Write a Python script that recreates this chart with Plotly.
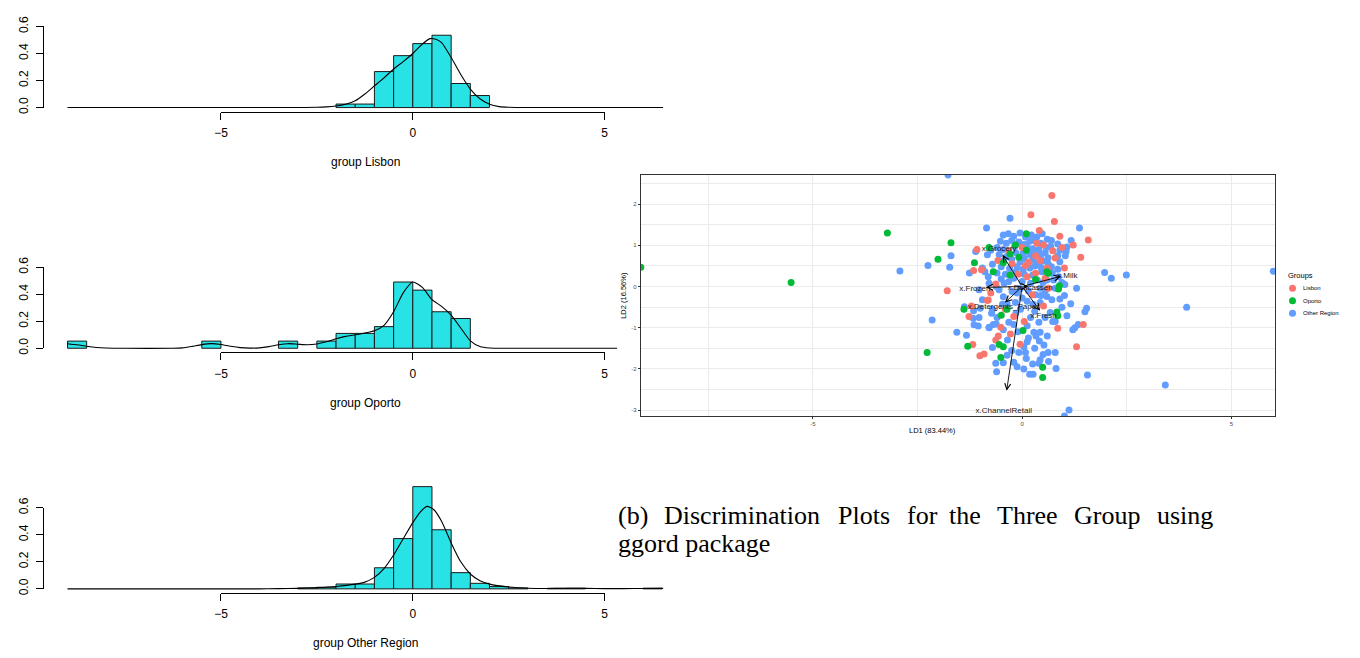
import plotly.graph_objects as go

W, H = 1360, 658
SANS = "Liberation Sans, Arial, sans-serif"
SERIF = "Liberation Serif, Times New Roman, serif"


def px2x(p):
    return p / W


def px2y(p):
    return 1 - p / H


# ---------------- histogram data (density scale, bin width 0.5) ----------------
bin_width = 0.5
hist_titles = ["group Lisbon", "group Oporto", "group Other Region"]
hist_xticks = [-5, 0, 5]
hist_xticklabels = ["\u22125", "0", "5"]
hist_yticks = [0.0, 0.2, 0.4, 0.6]
hist_yticklabels = ["0.0", "0.2", "0.4", "0.6"]

lisbon_bins = [-2.0, -1.5, -1.0, -0.5, 0.0, 0.5, 1.0, 1.5]
lisbon_heights = [0.026, 0.026, 0.266, 0.384, 0.473, 0.535, 0.178, 0.089]
lisbon_dens_x = [-9.0, -3.0, -2.5, -2.25, -2.0, -1.75, -1.5, -1.25, -1.0, -0.75, -0.5, -0.25,
                 0.0, 0.25, 0.45, 0.6, 0.75, 1.0, 1.25, 1.5, 1.75, 2.0, 2.25, 2.5, 3.0, 6.53]
lisbon_dens_y = [0.0, 0.0, 0.002, 0.005, 0.012, 0.025, 0.05, 0.1, 0.16, 0.22, 0.285, 0.34,
                 0.40, 0.47, 0.51, 0.505, 0.48, 0.37, 0.245, 0.137, 0.065, 0.024, 0.007, 0.002, 0.0, 0.0]

oporto_bins = [-9.0, -5.5, -3.5, -2.5, -2.0, -1.5, -1.0, -0.5, 0.0, 0.5, 1.0]
oporto_heights = [0.053, 0.053, 0.053, 0.053, 0.11, 0.11, 0.16, 0.49, 0.43, 0.27, 0.22]
oporto_dens_x = [-9.0, -8.75, -8.5, -8.25, -8.0, -7.5, -6.25, -6.0, -5.75, -5.5, -5.25, -5.0,
                 -4.75, -4.5, -4.25, -4.0, -3.75, -3.5, -3.25, -3.0, -2.75, -2.5, -2.25, -2.0,
                 -1.75, -1.5, -1.25, -1.0, -0.75, -0.5, -0.25, 0.0, 0.25, 0.5, 0.75, 1.0,
                 1.25, 1.5, 1.75, 2.0, 2.5, 5.4]
oporto_dens_y = [0.034, 0.026, 0.015, 0.006, 0.002, 0.0, 0.0, 0.003, 0.014, 0.027, 0.034, 0.028,
                 0.015, 0.005, 0.001, 0.003, 0.012, 0.026, 0.034, 0.03, 0.026, 0.032, 0.048, 0.07,
                 0.088, 0.1, 0.113, 0.13, 0.17, 0.27, 0.41, 0.49, 0.45, 0.36, 0.31, 0.245,
                 0.15, 0.055, 0.013, 0.002, 0.0, 0.0]

other_bins = [-3.0, -2.5, -2.0, -1.5, -1.0, -0.5, 0.0, 0.5, 1.0, 1.5, 2.0, 2.5, 3.5, 4.0, 6.0]
other_heights = [0.007, 0.012, 0.036, 0.036, 0.156, 0.372, 0.756, 0.437, 0.12, 0.041, 0.017,
                 0.007, 0.004, 0.005, 0.005]
other_dens_x = [-9.0, -4.0, -3.5, -3.0, -2.5, -2.0, -1.5, -1.25, -1.0, -0.75, -0.5, -0.25, 0.0,
                0.2, 0.37, 0.55, 0.75, 1.0, 1.25, 1.5, 1.75, 2.0, 2.5, 3.0, 3.5, 4.0, 4.5, 5.0,
                5.5, 6.0, 6.53]
other_dens_y = [0.0, 0.0, 0.002, 0.004, 0.009, 0.018, 0.035, 0.05, 0.085, 0.15, 0.25, 0.37, 0.49,
                0.57, 0.61, 0.585, 0.5, 0.34, 0.2, 0.11, 0.06, 0.035, 0.014, 0.005, 0.003, 0.004,
                0.004, 0.002, 0.002, 0.003, 0.004]

# ---------------- discriminant scatter data (LD1, LD2) ----------------
groups = ["Lisbon", "Oporto", "Other Region"]
group_colors = ["#F8766D", "#00BA38", "#619CFF"]

lisbon_pts = [(-1.08, 0.90), (-1.16, 0.39), (-0.97, 0.41), (-1.79, -0.10), (-0.83, -0.34),
              (-1.21, -0.47), (-1.27, -0.73), (-1.18, -1.41), (-1.01, -1.68), (-0.91, -1.64),
              (0.71, 2.21), (0.21, 1.74), (0.77, 1.58), (0.41, 1.36), (0.90, 1.22), (1.58, 1.13),
              (1.22, 1.01), (1.40, 0.71), (1.01, 0.45), (0.79, 0.69), (0.73, 0.87), (-0.58, 0.63),
              (-0.63, 0.06), (-0.75, -0.16), (-0.81, -0.33), (-0.20, -0.73), (0.51, -0.47),
              (0.85, -1.01), (1.46, -0.92), (1.30, -1.46), (-0.51, -0.99), (-0.28, -1.15),
              (-0.57, -1.20), (-0.63, -1.30), (0.12, 0.24), (0.32, 0.32), (0.08, 0.51),
              (0.63, -0.04), (-0.32, 0.87), (-0.24, 0.55), (0.43, 0.63), (0.51, 1.01),
              (0.32, 0.75), (0.16, 0.59), (0.35, 1.05), (0.0, 0.95), (-0.1, 0.3), (0.55, 0.2),
              (0.25, -0.2), (-0.4, -0.55), (0.05, -0.85), (-0.05, -1.4), (0.6, 0.45), (0.95, 0.95)]

oporto_pts = [(-9.11, 0.47), (-5.52, 0.095), (-3.22, 1.30), (-1.70, 1.06), (-2.01, 0.66),
              (-1.14, 0.58), (-1.39, -0.55), (-1.30, -1.45), (-2.27, -1.60), (-0.79, 0.95),
              (-0.69, 0.36), (-0.45, 0.58), (-0.29, 0.28), (-0.29, 0.79), (-0.16, 1.01),
              (0.10, 1.28), (-0.08, 0.71), (0.32, 0.17), (0.59, 0.36), (0.63, 0.32), (0.89, 0.02),
              (0.87, -0.06), (-0.36, -0.55), (-0.50, -0.70), (0.83, -0.62), (0.85, -0.71),
              (0.02, -1.07), (-0.55, -1.41), (-0.45, -1.46), (-0.51, -1.72), (0.49, -1.96),
              (0.49, -2.21), (0.10, 0.88)]

other_pts = [(-1.77, 2.71), (-0.85, 1.42), (-1.70, 0.75), (-2.25, 0.51), (-1.73, 0.47),
             (-2.92, 0.38), (-1.11, 0.85), (-0.83, 0.77), (-0.95, 0.45), (-0.89, 0.36),
             (-1.26, 0.33), (-0.81, 0.24), (-0.95, -0.32), (-1.38, -0.49), (-1.16, -0.59),
             (-1.00, -0.53), (-1.17, -0.77), (-2.15, -0.81), (-1.15, -0.93), (-1.05, -0.96),
             (-1.56, -1.11), (-1.33, -1.18), (-0.79, -1.00),
             (-0.29, 1.66), (1.37, 1.42), (1.17, 1.12), (1.07, 0.96), (1.05, 0.85), (1.03, 0.75),
             (0.85, 1.03), (0.70, 1.12), (1.97, 0.34), (2.13, 0.20), (2.49, 0.28), (6.0, 0.37),
             (3.93, -0.50), (3.42, -2.39), (1.12, -3.0), (1.01, -3.14), (1.56, -2.15),
             (1.30, -0.04), (1.01, -0.22), (1.16, -0.42), (1.54, -0.53), (1.50, -0.61),
             (1.07, -0.71), (0.79, -0.85), (1.26, -1.00), (1.21, -1.05), (1.34, -0.92),
             (0.79, -1.60), (0.62, -1.60), (0.63, -1.82), (0.81, -1.99), (0.43, -1.78),
             (0.40, -1.86), (0.25, -1.88), (0.18, -2.13), (0.26, -2.13), (0.04, -2.00),
             (-0.12, -1.95), (-0.20, -1.84), (-0.36, -1.67), (-0.63, -1.86), (-0.61, -2.07),
             (0.08, -1.60), (-0.08, -1.60), (0.04, -1.46), (0.12, -1.34), (0.41, -1.32),
             (0.52, -1.42), (0.28, -1.11), (0.43, -1.11), (0.33, -1.20), (-0.71, -1.48),
             (-0.79, -0.99), (-0.69, -0.92), (-0.62, -0.91), (-0.32, -0.87), (-0.20, -0.92),
             (-1.03, -0.75), (-0.73, -0.65), (-0.47, -0.43), (-0.36, -0.42), (-0.71, -0.55),
             (-0.04, -0.55), (-0.16, -0.39), (0.12, -0.36), (0.26, -0.43), (0.43, -0.39),
             (0.20, -0.75), (0.12, -0.95), (0.40, -0.87), (0.67, -0.63), (0.73, -0.85),
             (-0.12, -0.16), (-0.24, -0.12), (-0.43, 0.08), (-0.32, 0.12), (-0.55, -0.08),
             (-1.03, -0.08), (-0.79, 0.08), (-0.71, 0.54), (-0.75, 0.88), (0.47, 0.36),
             (0.59, 0.16), (0.75, 0.16), (0.87, 0.24), (0.79, -0.04), (0.43, -0.04),
             (0.32, -0.20), (0.59, -0.24), (0.71, -0.32), (0.36, 0.16), (0.20, 0.08),
             (-0.45, 1.25), (-0.33, 1.28), (-0.2, 1.22), (-0.05, 1.3), (0.08, 1.2), (0.22, 1.25),
             (0.35, 1.2), (0.48, 1.28), (-0.52, 1.1), (-0.38, 1.05), (-0.25, 1.12), (-0.08, 1.08),
             (0.05, 1.02), (0.18, 1.1), (0.3, 1.12), (0.45, 1.05), (0.6, 1.15), (-0.6, 0.95),
             (-0.45, 0.9), (-0.18, 0.97), (0.12, 0.96), (0.25, 0.92), (0.4, 0.9), (0.58, 0.95),
             (0.68, 0.98), (0.9, 0.88), (-0.55, 0.78), (-0.38, 0.72), (-0.15, 0.82), (0.02, 0.8),
             (0.18, 0.78), (0.28, 0.84), (0.45, 0.77), (0.55, 0.82), (0.62, 0.7), (0.85, 0.75),
             (-0.45, 0.62), (-0.25, 0.66), (-0.05, 0.6), (0.05, 0.68), (0.25, 0.65), (0.38, 0.58),
             (0.5, 0.62), (0.62, 0.55), (0.9, 0.6), (-0.5, 0.48), (-0.3, 0.44), (-0.12, 0.48),
             (0.02, 0.42), (0.18, 0.45), (0.3, 0.5), (0.45, 0.46), (0.7, 0.48), (0.85, 0.42),
             (-0.6, 0.33), (-0.4, 0.3), (-0.15, 0.36), (0.05, 0.3), (0.25, 0.28), (0.72, 0.32),
             (-0.5, 0.18), (-0.2, 0.2), (0.0, 0.12), (0.5, 0.1), (0.95, 0.1), (-0.62, 0.0),
             (-0.05, -0.05), (0.15, -0.1), (0.55, -0.1), (1.02, 0.05), (-0.45, -0.25),
             (0.0, -0.28), (0.45, -0.22), (0.9, -0.3), (-0.6, -0.75), (-0.15, -0.65),
             (0.3, -0.6), (0.55, -0.75), (0.95, -0.5), (-0.45, -1.05), (-0.1, -1.1),
             (0.15, -1.25), (0.6, -1.2), (-0.35, -1.3), (0.3, -1.5), (-0.25, -1.55),
             (0.5, -1.65), (-0.45, -1.85), (0.1, -1.75)]

lisbon_ld1 = [p[0] for p in lisbon_pts]
lisbon_ld2 = [p[1] for p in lisbon_pts]
oporto_ld1 = [p[0] for p in oporto_pts]
oporto_ld2 = [p[1] for p in oporto_pts]
other_ld1 = [p[0] for p in other_pts]
other_ld2 = [p[1] for p in other_pts]

# biplot vectors
vec_names = ["x.Grocery", "x.Milk", "x.Frozen", "x.Delicassen", "x.Detergents_Paper",
             "x.Fresh", "x.ChannelRetail"]
vec_x = [-0.47, 0.93, -0.87, 0.15, -0.41, 0.43, -0.37]
vec_y = [0.77, 0.25, -0.02, 0.0, -0.39, -0.59, -2.53]
vec_label_x = [-0.55, 1.08, -1.13, 0.19, -0.45, 0.51, -0.44]
vec_label_y = [0.92, 0.25, -0.05, -0.03, -0.49, -0.71, -3.03]
vec_origin = [0.0, 0.0]

ld_xticks = [-5, 0, 5]
ld_xminor = [-7.5, -2.5, 2.5]
ld_yticks = [-3, -2, -1, 0, 1, 2]
ld_yminor = [-2.5, -1.5, -0.5, 0.5, 1.5, 2.5]

caption_line1 = ["(b)", "Discrimination", "Plots", "for", "the", "Three", "Group", "using"]
caption_line1_px = [614, 660, 836, 905, 948, 996, 1074, 1157]
caption_line2 = "ggord package"

# ---------------- figure ----------------
fig = go.Figure()
layout = dict(width=W, height=H, margin=dict(l=0, r=0, t=0, b=0),
              paper_bgcolor="white", plot_bgcolor="rgba(0,0,0,0)", showlegend=False,
              font=dict(family=SANS, color="black"))
annotations = []


def ax_key(kind, n):
    return kind + "axis" + ("" if n == 1 else str(n))


def ax_ref(kind, n):
    return kind + ("" if n == 1 else str(n))


# geometry of the R histogram panels (page pixels)
x0_px, ppu_x = 409.1, 38.68
ppu_y = 138.6
left_px = 37.0
base_px = [100.0, 346.7, 593.3]
ymax = [0.72, 0.76, 0.80]
right_px = [661.7, 615.0, 661.7]
label_px = [156.0, 403.0, 649.0]
hist_data = [(lisbon_bins, lisbon_heights, lisbon_dens_x, lisbon_dens_y),
             (oporto_bins, oporto_heights, oporto_dens_x, oporto_dens_y),
             (other_bins, other_heights, other_dens_x, other_dens_y)]

for i, (bins, heights, dx, dy) in enumerate(hist_data):
    a, b = 2 * i + 1, 2 * i + 2
    bottom = base_px[i] + 0.03 * ppu_y
    top = base_px[i] - ymax[i] * ppu_y
    layout[ax_key("x", a)] = dict(domain=[px2x(left_px), px2x(right_px[i])],
                                  range=[(left_px - x0_px) / ppu_x, (right_px[i] - x0_px) / ppu_x],
                                  visible=False, anchor=ax_ref("y", a))
    layout[ax_key("y", a)] = dict(domain=[px2y(bottom), px2y(top)],
                                  range=[-0.03, ymax[i]], visible=False, anchor=ax_ref("x", a))
    fig.add_trace(go.Bar(x=bins, y=heights, width=bin_width, offset=0,
                         marker=dict(color="#28E2E5", line=dict(color="#1a1a1a", width=1)),
                         xaxis=ax_ref("x", a), yaxis=ax_ref("y", a), hoverinfo="skip"))
    fig.add_trace(go.Scatter(x=dx, y=dy, mode="lines",
                             line=dict(color="black", width=1.1, shape="spline", smoothing=0.6),
                             xaxis=ax_ref("x", a), yaxis=ax_ref("y", a), hoverinfo="skip"))
    # R style axes (lines only span first..last tick)
    layout[ax_key("x", b)] = dict(domain=[px2x(x0_px - 5 * ppu_x), px2x(x0_px + 5 * ppu_x)],
                                  range=[-5.001, 5.001], anchor="free", position=px2y(bottom),
                                  showline=True, linecolor="black", linewidth=1,
                                  ticks="outside", ticklen=7, tickwidth=1, tickcolor="black",
                                  tickvals=hist_xticks, ticktext=hist_xticklabels,
                                  tickfont=dict(family=SANS, size=12, color="black"),
                                  showgrid=False, zeroline=False, ticklabelstandoff=3)
    layout[ax_key("y", b)] = dict(domain=[px2y(base_px[i]), px2y(base_px[i] - 0.6 * ppu_y)],
                                  range=[-0.0005, 0.6005], anchor="free", position=px2x(36.5),
                                  showline=True, linecolor="black", linewidth=1,
                                  ticks="outside", ticklen=7, tickwidth=1, tickcolor="black",
                                  tickvals=hist_yticks, ticktext=hist_yticklabels, tickangle=-90,
                                  tickfont=dict(family=SANS, size=12, color="black"),
                                  showgrid=False, zeroline=False, ticklabelstandoff=3)
    fig.add_trace(go.Scatter(x=hist_xticks, y=hist_yticks[:3], mode="markers",
                             marker=dict(opacity=0), xaxis=ax_ref("x", b), yaxis=ax_ref("y", b),
                             hoverinfo="skip"))
    annotations.append(dict(text=hist_titles[i], x=px2x(361), y=px2y(label_px[i]),
                            xref="paper", yref="paper", showarrow=False, xanchor="center",
                            yanchor="middle", font=dict(family=SANS, size=12, color="black")))

# ---------------- ggord scatter panel ----------------
grid_col = "#EBEBEB"
layout["xaxis7"] = dict(domain=[px2x(639), px2x(1278.3)], range=[-9.11, 6.04], anchor="y7",
                        tickvals=ld_xticks, ticktext=["-5", "0", "5"],
                        showgrid=True, gridcolor=grid_col, gridwidth=1,
                        minor=dict(tickvals=ld_xminor, showgrid=True, gridcolor=grid_col,
                                   gridwidth=0.8, ticks=""),
                        zeroline=False, showline=True, mirror=True, linecolor="#333333",
                        linewidth=1, ticks="outside", ticklen=2, tickcolor="#333333",
                        tickfont=dict(family=SANS, size=6, color="#4D4D4D"))
layout["yaxis7"] = dict(domain=[px2y(416), px2y(169)], range=[-3.14, 2.71], anchor="x7",
                        tickvals=ld_yticks, ticktext=[str(t) for t in ld_yticks],
                        showgrid=True, gridcolor=grid_col, gridwidth=1,
                        minor=dict(tickvals=ld_yminor, showgrid=True, gridcolor=grid_col,
                                   gridwidth=0.8, ticks=""),
                        zeroline=False, showline=True, mirror=True, linecolor="#333333",
                        linewidth=1, ticks="outside", ticklen=2, tickcolor="#333333",
                        tickfont=dict(family=SANS, size=6, color="#4D4D4D"))

for name, xs, ys, col in [(groups[2], other_ld1, other_ld2, group_colors[2]),
                          (groups[0], lisbon_ld1, lisbon_ld2, group_colors[0]),
                          (groups[1], oporto_ld1, oporto_ld2, group_colors[1])]:
    fig.add_trace(go.Scatter(x=xs, y=ys, mode="markers", name=name,
                             marker=dict(color=col, size=7, line=dict(width=0)),
                             xaxis="x7", yaxis="y7", hoverinfo="skip"))

fig.add_trace(go.Scatter(x=vec_label_x, y=vec_label_y, text=vec_names, mode="text",
                         textfont=dict(family=SANS, size=8, color="#1a1a1a"),
                         xaxis="x7", yaxis="y7", cliponaxis=False, hoverinfo="skip"))

for vx, vy in zip(vec_x, vec_y):
    annotations.append(dict(x=vx, y=vy, ax=vec_origin[0], ay=vec_origin[1], xref="x7", yref="y7",
                            axref="x7", ayref="y7", text="", showarrow=True, arrowhead=5,
                            arrowsize=1.3, arrowwidth=0.9, arrowcolor="black", standoff=0,
                            startstandoff=0))

annotations.append(dict(text="LD1 (83.44%)", x=px2x(958.5), y=px2y(430.7), xref="paper",
                        yref="paper", showarrow=False, font=dict(family=SANS, size=7.5)))
annotations.append(dict(text="LD2 (16.56%)", x=px2x(622), y=px2y(292), xref="paper",
                        yref="paper", showarrow=False, textangle=-90,
                        font=dict(family=SANS, size=7.5)))

# legend (drawn on its own small axis pair)
layout["xaxis8"] = dict(domain=[px2x(1280), 1.0], range=[-16, 64], visible=False, anchor="y8")
layout["yaxis8"] = dict(domain=[px2y(320), px2y(265)], range=[2.732, -1.598], visible=False,
                        anchor="x8")
legend_idx = list(range(len(groups)))
fig.add_trace(go.Scatter(x=[0] * len(groups), y=legend_idx, mode="markers",
                         marker=dict(color=group_colors, size=7), xaxis="x8", yaxis="y8",
                         hoverinfo="skip"))
for k, g in zip(legend_idx, groups):
    annotations.append(dict(text=g, x=9, y=k, xref="x8", yref="y8", showarrow=False,
                            xanchor="left", yanchor="middle",
                            font=dict(family=SANS, size=6, color="black")))
annotations.append(dict(text="Groups", x=-6.5, y=-1.05, xref="x8", yref="y8", showarrow=False,
                        xanchor="left", yanchor="middle", font=dict(family=SANS, size=7.5)))

# caption
for word, px in zip(caption_line1, caption_line1_px):
    annotations.append(dict(text=word, x=px2x(px), y=px2y(518), xref="paper", yref="paper",
                            showarrow=False, xanchor="left", yanchor="middle",
                            font=dict(family=SERIF, size=26, color="black")))
annotations.append(dict(text=caption_line2, x=px2x(614), y=px2y(547), xref="paper",
                        yref="paper", showarrow=False, xanchor="left", yanchor="middle",
                        font=dict(family=SERIF, size=26, color="black")))

layout["annotations"] = annotations
fig.update_layout(**layout)
fig.write_html("out.html", config={"displayModeBar": False},
               post_script="document.body.style.margin='0px';"
                           "document.body.style.overflow='hidden';")
